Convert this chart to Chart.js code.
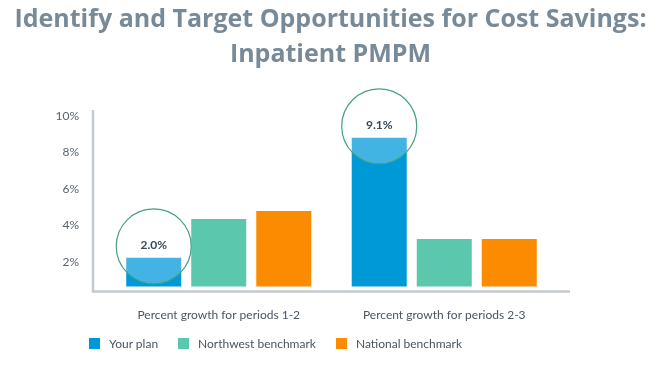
<!DOCTYPE html>
<html>
<head>
<meta charset="utf-8">
<script src="https://cdn.jsdelivr.net/npm/chart.js@4"></script>
<style>
  html, body { margin: 0; padding: 0; background: #fff; }
  #wrap { position: relative; width: 661px; height: 384px; }
  #title {
    position: absolute; left: 0; top: 0; width: 661px; text-align: center;
    font: bold 25px "Open Sans", sans-serif; color: #788a98; line-height: 35px;
  }
  #title div { white-space: nowrap; }
  #legend {
    position: absolute; left: 89px; top: 336px;
    display: flex; align-items: center;
    font: 12px Lato, sans-serif; color: #4a5560;
  }
  #legend .item { display: flex; align-items: center; margin-right: 20px; }
  #legend .box { width: 11px; height: 11px; margin-right: 9px; }
</style>
</head>
<body>
<div id="wrap">
  <canvas id="chart" width="661" height="384"></canvas>
  <div id="title"><div>Identify and Target Opportunities for Cost Savings:</div><div>Inpatient PMPM</div></div>
  <div id="legend"></div>
</div>
<script>
const categories = ['Percent growth for periods 1-2', 'Percent growth for periods 2-3'];
const seriesNames = ['Your plan', 'Northwest benchmark', 'National benchmark'];
const yourPlan = [2.23, 8.79];
const northwest = [4.35, 3.26];
const national = [4.79, 3.26];
const calloutLabels = ['2.0%', '9.1%'];
const yTicks = [2, 4, 6, 8, 10];

const colors = ['#0099d8', '#5bc8ae', '#fb8b00'];
const BAR_BASE = 0.66;

// axis lines stick out past the plot area a bit, and the highlight circles
const decorations = {
    id: 'decorations',
    beforeDatasetsDraw(chart) {
        const { ctx, chartArea: a } = chart;
        ctx.save();
        ctx.strokeStyle = '#c3cbd1';
        ctx.lineWidth = 2.5;
        ctx.beginPath();
        ctx.moveTo(a.left - 13, a.top);
        ctx.lineTo(a.left - 13, a.bottom);
        ctx.lineTo(a.right + 13, a.bottom);
        ctx.stroke();
        ctx.restore();
    },
    afterDatasetsDraw(chart) {
        const { ctx } = chart;
        const bars = chart.getDatasetMeta(0).data;
        ctx.save();
        bars.forEach((bar, i) => {
            const cx = bar.x, cy = bar.y - 11.5;
            ctx.beginPath();
            ctx.arc(cx, cy, 37.5, 0, Math.PI * 2);
            ctx.fillStyle = 'rgba(255,255,255,0.26)';
            ctx.fill();
            ctx.strokeStyle = '#45a07c';
            ctx.lineWidth = 1.2;
            ctx.stroke();
            ctx.fillStyle = '#3b4856';
            ctx.font = 'bold 12px Lato, sans-serif';
            ctx.textAlign = 'center';
            ctx.textBaseline = 'middle';
            ctx.fillText(calloutLabels[i], cx, cy - 1);
        });
        ctx.restore();
    }
};

const makeSet = (label, data, color) => ({
    label, data,
    backgroundColor: color,
    base: BAR_BASE,
    borderWidth: 0,
    categoryPercentage: 0.865,
    barPercentage: 0.846
});

new Chart(document.getElementById('chart'), {
    type: 'bar',
    data: {
        labels: categories,
        datasets: [
            makeSet(seriesNames[0], yourPlan, colors[0]),
            makeSet(seriesNames[1], northwest, colors[1]),
            makeSet(seriesNames[2], national, colors[2])
        ]
    },
    options: {
        responsive: false,
        animation: false,
        layout: { padding: { left: 0, right: 104, top: 110, bottom: 52.5 } },
        plugins: {
            legend: { display: false },
            tooltip: { enabled: false }
        },
        scales: {
            x: {
                grid: { display: false },
                border: { display: false },
                ticks: { color: '#4a5560', font: { family: 'Lato, sans-serif', size: 12 }, padding: 8 },
                afterFit(scale) { scale.height = 40; }
            },
            y: {
                min: 0.39,
                max: 10.31,
                grid: { display: false },
                border: { display: false },
                afterFit(scale) { scale.width = 106; },
                afterBuildTicks(scale) { scale.ticks = yTicks.map(v => ({ value: v })); },
                ticks: {
                    color: '#5a6470',
                    padding: 19,
                    font: { family: 'Lato, sans-serif', size: 12 },
                    callback: v => v + '%'
                }
            }
        }
    },
    plugins: [decorations]
});

const legend = document.getElementById('legend');
seriesNames.forEach((name, i) => {
    const item = document.createElement('div');
    item.className = 'item';
    item.innerHTML = '<span class="box" style="background:' + colors[i] + '"></span><span>' + name + '</span>';
    legend.appendChild(item);
});
</script>
</body>
</html>
